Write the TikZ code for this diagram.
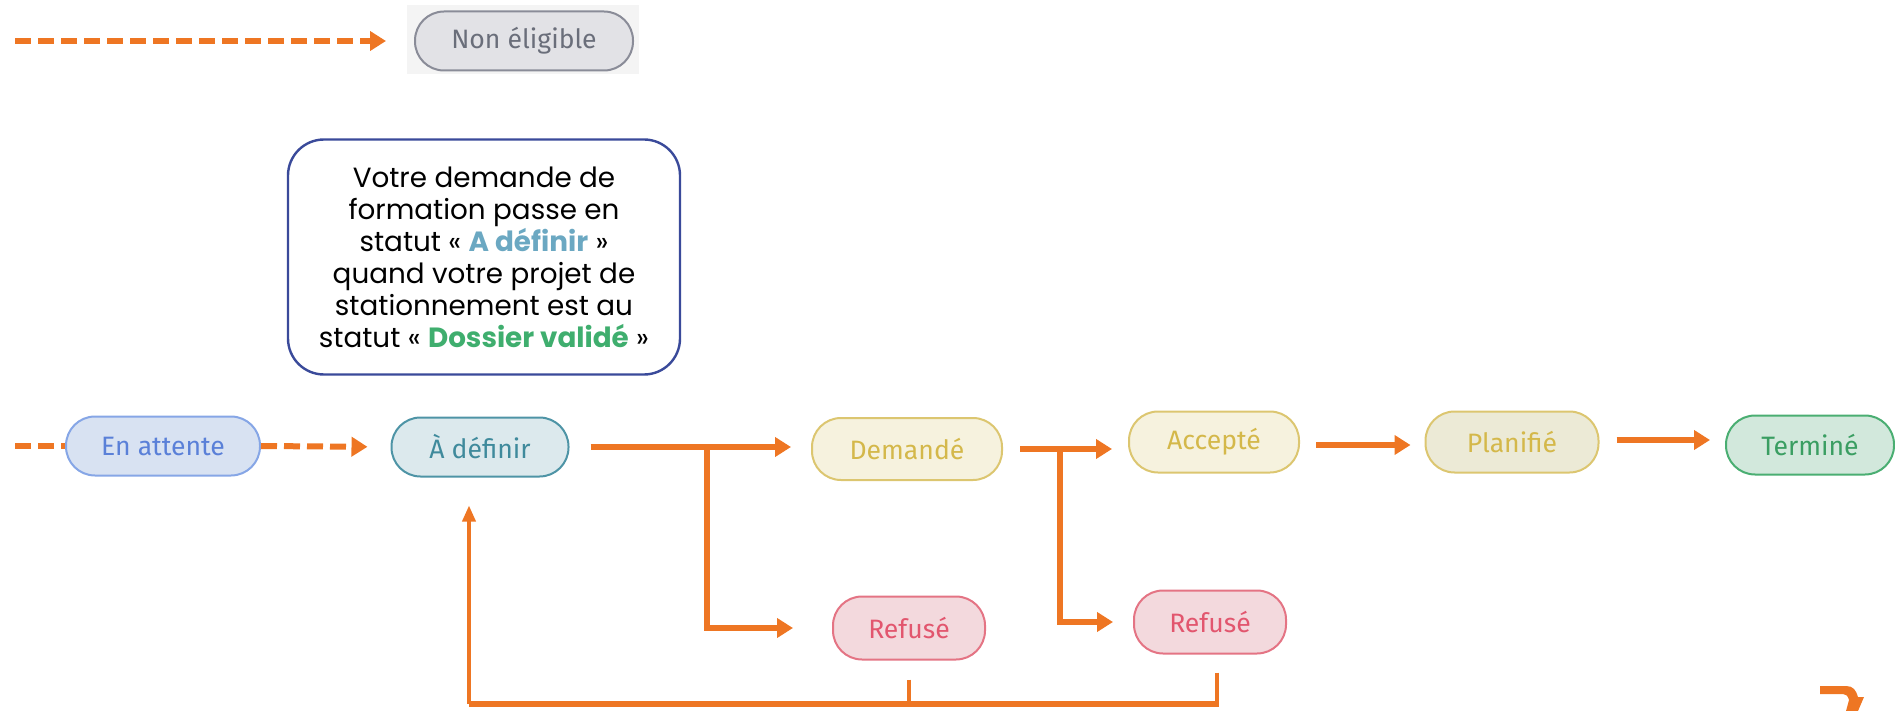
\documentclass[tikz,border=0pt]{standalone}
\usepackage{fontspec}
\setmainfont{Poppins}
\newfontfamily\pillfont{Fira Sans}
\usetikzlibrary{arrows.meta}
\definecolor{org}{HTML}{EE7623}
\definecolor{calbd}{HTML}{3A4A9A}
\definecolor{adeftxt}{HTML}{6BA8C2}
\definecolor{dostxt}{HTML}{3FAE6E}
\definecolor{nebg}{HTML}{F4F4F4}
\definecolor{nefill}{HTML}{E2E2E6}
\definecolor{nebd}{HTML}{8A8C98}
\definecolor{netx}{HTML}{6A6E7A}
\definecolor{attfill}{HTML}{D8E2F2}
\definecolor{attbd}{HTML}{86A6E6}
\definecolor{atttx}{HTML}{5A80D8}
\definecolor{adfill}{HTML}{DCE9ED}
\definecolor{adbd}{HTML}{4E94A6}
\definecolor{adtx}{HTML}{3F8A9C}
\definecolor{yfill}{HTML}{F6F2DE}
\definecolor{ybd}{HTML}{DCC670}
\definecolor{ytx}{HTML}{D4B84A}
\definecolor{pfill}{HTML}{ECEAD6}
\definecolor{tfill}{HTML}{D2E8DC}
\definecolor{tbd}{HTML}{4AAE72}
\definecolor{ttx}{HTML}{3A9E62}
\definecolor{rfill}{HTML}{F3D9DD}
\definecolor{rbd}{HTML}{E47484}
\definecolor{rtx}{HTML}{E2566E}
\tikzset{
  pill/.style={draw, line width=1pt, rounded corners=14.5pt, minimum height=29.5pt,
    inner sep=0pt, font=\pillfont\fontsize{13.3}{15}\selectfont},
  callout/.style={draw=calbd, line width=1.2pt, rounded corners=18pt, fill=white,
    inner sep=0pt, align=center, font=\fontsize{13.9}{16}\selectfont},
  flow/.style={draw=org, line width=2.6pt, -{Triangle[length=8pt,width=9.5pt]}},
  dflow/.style={draw=org, line width=3pt, dash pattern=on 8pt off 3.5pt, -{Triangle[length=8pt,width=9.5pt]}},
  dline/.style={draw=org, line width=3pt, dash pattern=on 8pt off 3.5pt},
  thin/.style={draw=org, line width=1.8pt},
  ret/.style={draw=org, line width=1.8pt, -{Triangle[length=8pt,width=6.5pt]}},
}
\begin{document}
\begin{tikzpicture}[x=0.5pt,y=-0.5pt]
\useasboundingbox (0,0) rectangle (1895,711);

% top: non eligible
\node[fill=nebg, minimum width=116pt, minimum height=34.5pt, inner sep=0pt] (nebox) at (523,40) {};
\node[pill, fill=nefill, draw=nebd, text=netx, minimum width=109pt] (nonel) at (524,41) {Non éligible};
\coordinate (s0) at (15,41);
\draw[dflow, shorten >=14pt] (s0) -- (nonel.west);

% callout
\node[callout, minimum width=196pt, minimum height=117.5pt] (call) at (484,257)
 {Votre demande de\\formation passe en\\statut « {\bfseries\color{adeftxt}A définir} »\\quand votre projet de\\stationnement est au\\statut « {\bfseries\color{dostxt}Dossier validé} »};

% main row
\node[pill, fill=attfill, draw=attbd, text=atttx, minimum width=97pt] (att) at (163,446) {En attente};
\node[pill, fill=adfill, draw=adbd, text=adtx, minimum width=88.5pt] (adef) at (480,447) {À définir};
\node[pill, fill=yfill, draw=ybd, text=ytx, minimum width=95pt, minimum height=31pt] (dem) at (907,449) {Demandé};
\node[pill, fill=yfill, draw=ybd, text=ytx, minimum width=85pt, minimum height=30.5pt] (acc) at (1214,442) {Accepté};
\node[pill, fill=pfill, draw=ybd, text=ytx, minimum width=86.5pt, minimum height=30.5pt] (pla) at (1512,442) {Planifié};
\node[pill, fill=tfill, draw=tbd, text=ttx, minimum width=84pt] (ter) at (1810,445) {Terminé};
\node[pill, fill=rfill, draw=rbd, text=rtx, minimum width=76pt, minimum height=31.5pt] (ref1) at (909,628) {Refusé};
\node[pill, fill=rfill, draw=rbd, text=rtx, minimum width=76pt, minimum height=31.5pt] (ref2) at (1210,622) {Refusé};

% dashed arrows
\coordinate (s1) at (15,446);
\draw[dline] (s1) -- (att.west);
\draw[dflow, shorten >=11.5pt] (att.east) -- (adef.west);

% solid arrows
\draw[flow, shorten <=10.5pt, shorten >=10pt] (adef.east) -- (adef.east -| dem.west);
\coordinate (b1) at (707,447);
\draw[flow, shorten >=19.5pt] (b1) |- (ref1.west);
\draw[flow, shorten <=8.5pt, shorten >=8pt] (dem.east) -- (dem.east -| acc.west);
\coordinate (b2) at (1060,449);
\draw[flow, shorten >=10pt] (b2) |- (ref2.west);
\draw[flow, shorten <=8pt, shorten >=7pt] ([yshift=-1.5pt]acc.east) -- ([yshift=-1.5pt]acc.east -| pla.west);
\draw[flow, shorten <=8.5pt, shorten >=7.5pt] ([yshift=1pt]pla.east) -- ([yshift=1pt]pla.east -| ter.west);

% return to À définir
\coordinate (r0) at (469,704);
\draw[thin, shorten <=9.5pt] (ref1.south) -- (ref1.south |- r0);
\draw[thin, shorten <=9pt] ([xshift=3.5pt]ref2.south) -- ([xshift=3.5pt]ref2.south |- r0);
\draw[draw=org, line width=3pt] ([xshift=4.3pt]ref2.south |- r0) -- (r0);
\draw[ret, shorten >=14pt] (r0) -- (r0 |- adef.south);

% bottom-right fragment
\fill[org] (1820,686) -- (1846,686) .. controls (1853,686) and (1856,690) .. (1858,697)
  -- (1864,697) -- (1858,711) -- (1846,711) -- (1849,700)
  .. controls (1848,696) and (1846,694) .. (1843,694) -- (1820,694) -- cycle;
\end{tikzpicture}
\end{document}
